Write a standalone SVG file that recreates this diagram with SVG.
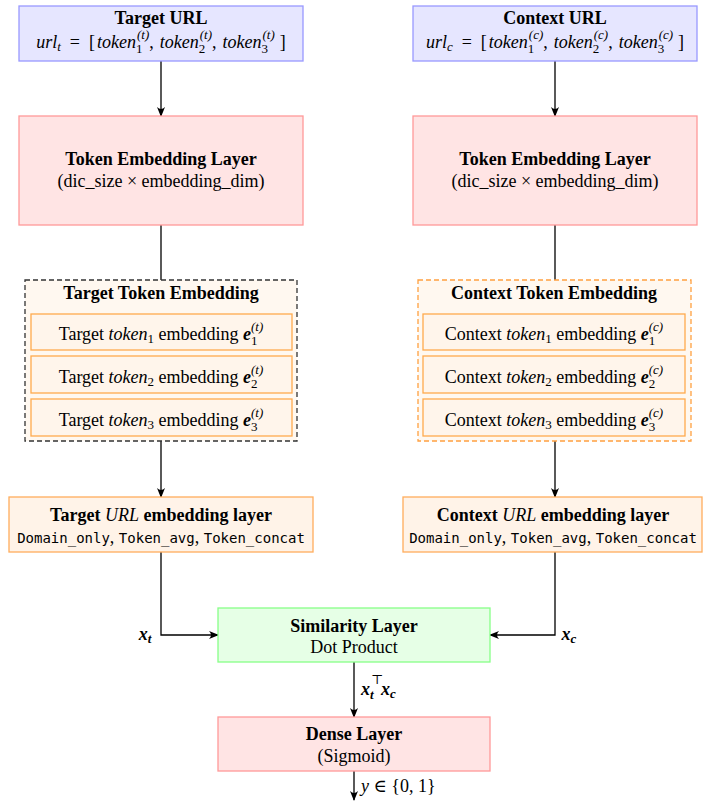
<svg xmlns="http://www.w3.org/2000/svg" width="703" height="801" viewBox="0 0 703 801">
<defs>
<marker id="arr" viewBox="0 0 10 10" refX="9" refY="5" markerWidth="10" markerHeight="10" markerUnits="userSpaceOnUse" orient="auto">
<path d="M0,1 Q4,5 0,9 L10,5 Z" fill="#000"/>
</marker>
<style>
text{font-family:"Liberation Serif","DejaVu Serif",serif;font-size:18px;fill:#000;text-anchor:middle}
.b{font-weight:bold}
.i{font-style:italic}
.s{font-size:13px}
.st{text-anchor:start}
.mono{font-family:"DejaVu Sans Mono","Liberation Mono",monospace;font-size:14px}
.url{fill:#e6e6ff;stroke:#9999ff;stroke-width:1.3}
.emb{fill:#ffe4e4;stroke:#ff9999;stroke-width:1.3}
.grp{fill:#fff8f0;stroke-width:1.3;stroke-dasharray:5,3}
.tok{fill:#fff5eb;stroke:#ffaa4d;stroke-width:1.3}
.ul{fill:#fff3e8;stroke:#ffad5c;stroke-width:1.3}
.sim{fill:#e6ffe6;stroke:#88ff88;stroke-width:1.3}
.c{fill:none;stroke:#000;stroke-width:1.3}
</style>
</defs>
<g id="connectors">
<line class="c" x1="161" y1="61" x2="161" y2="116" marker-end="url(#arr)"/>
<line class="c" x1="555" y1="61" x2="555" y2="116" marker-end="url(#arr)"/>
<line class="c" x1="161" y1="225" x2="161" y2="280"/>
<line class="c" x1="555" y1="225" x2="555" y2="280"/>
<line class="c" x1="161" y1="441" x2="161" y2="497" marker-end="url(#arr)"/>
<line class="c" x1="555" y1="441" x2="555" y2="497" marker-end="url(#arr)"/>
<polyline class="c" points="161,552 161,635 218,635" marker-end="url(#arr)"/>
<polyline class="c" points="555,552 555,635 490,635" marker-end="url(#arr)"/>
<line class="c" x1="354" y1="662" x2="354" y2="717" marker-end="url(#arr)"/>
<line class="c" x1="354" y1="771" x2="354" y2="800" marker-end="url(#arr)"/>
<text x="145" y="640" class="b i">x<tspan class="s" dy="3">t</tspan></text>
<text x="569" y="640" class="b i">x<tspan class="s" dy="3">c</tspan></text>
<text x="361" y="695" class="b i st">x<tspan class="s" dy="4">t</tspan></text>
<text x="371" y="684" class="s st">⊤</text>
<text x="381" y="695" class="b i st">x<tspan class="s" dy="3">c</tspan></text>
<text x="361" y="792" class="st"><tspan class="i">y</tspan> ∈ {0, 1}</text>
</g>
<g id="target-url">
<rect class="url" x="19" y="6" width="284" height="55"/>
<text x="161" y="24" class="b">Target URL</text>
<text x="161" y="48"><tspan class="i">url</tspan><tspan class="i s" dy="3">t</tspan><tspan dy="-3" dx="9">=</tspan><tspan dx="9">[</tspan><tspan class="i" dx="2">token</tspan><tspan class="s" dy="5">1</tspan><tspan class="i s" dx="-5.5" dy="-14">(t)</tspan><tspan dy="9">,</tspan><tspan class="i" dx="6">token</tspan><tspan class="s" dy="5">2</tspan><tspan class="i s" dx="-5.5" dy="-14">(t)</tspan><tspan dy="9">,</tspan><tspan class="i" dx="6">token</tspan><tspan class="s" dy="5">3</tspan><tspan class="i s" dx="-5.5" dy="-14">(t)</tspan><tspan dy="9" dx="5">]</tspan></text>
</g>
<g id="context-url">
<rect class="url" x="413" y="6" width="284" height="55"/>
<text x="555" y="24" class="b">Context URL</text>
<text x="555" y="48"><tspan class="i">url</tspan><tspan class="i s" dy="3">c</tspan><tspan dy="-3" dx="9">=</tspan><tspan dx="9">[</tspan><tspan class="i" dx="2">token</tspan><tspan class="s" dy="5">1</tspan><tspan class="i s" dx="-5.5" dy="-14">(c)</tspan><tspan dy="9">,</tspan><tspan class="i" dx="6">token</tspan><tspan class="s" dy="5">2</tspan><tspan class="i s" dx="-5.5" dy="-14">(c)</tspan><tspan dy="9">,</tspan><tspan class="i" dx="6">token</tspan><tspan class="s" dy="5">3</tspan><tspan class="i s" dx="-5.5" dy="-14">(c)</tspan><tspan dy="9" dx="5">]</tspan></text>
</g>
<g id="target-token-embedding-layer">
<rect class="emb" x="19" y="116" width="284" height="109"/>
<text x="161" y="165" class="b">Token Embedding Layer</text>
<text x="161" y="187">(dic_size × embedding_dim)</text>
</g>
<g id="context-token-embedding-layer">
<rect class="emb" x="413" y="116" width="284" height="109"/>
<text x="555" y="165" class="b">Token Embedding Layer</text>
<text x="555" y="187">(dic_size × embedding_dim)</text>
</g>
<g id="target-token-embedding">
<rect class="grp" x="25" y="280" width="272" height="161" stroke="#333"/>
<text x="161" y="299" class="b">Target Token Embedding</text>
<rect class="tok" x="31" y="314" width="261" height="36"/>
<text x="161" y="340">Target <tspan class="i">token</tspan><tspan class="s" dy="3">1</tspan><tspan dy="-3"> embedding </tspan><tspan class="b i">e</tspan><tspan class="s" dy="5">1</tspan><tspan class="i s" dx="-6.5" dy="-14">(t)</tspan></text>
<rect class="tok" x="31" y="356" width="261" height="37"/>
<text x="161" y="383">Target <tspan class="i">token</tspan><tspan class="s" dy="3">2</tspan><tspan dy="-3"> embedding </tspan><tspan class="b i">e</tspan><tspan class="s" dy="5">2</tspan><tspan class="i s" dx="-6.5" dy="-14">(t)</tspan></text>
<rect class="tok" x="31" y="399" width="261" height="37"/>
<text x="161" y="426">Target <tspan class="i">token</tspan><tspan class="s" dy="3">3</tspan><tspan dy="-3"> embedding </tspan><tspan class="b i">e</tspan><tspan class="s" dy="5">3</tspan><tspan class="i s" dx="-6.5" dy="-14">(t)</tspan></text>
</g>
<g id="context-token-embedding">
<rect class="grp" x="418" y="280" width="273" height="161" stroke="#ffa040"/>
<text x="554" y="299" class="b">Context Token Embedding</text>
<rect class="tok" x="423" y="314" width="262" height="36"/>
<text x="554" y="340">Context <tspan class="i">token</tspan><tspan class="s" dy="3">1</tspan><tspan dy="-3"> embedding </tspan><tspan class="b i">e</tspan><tspan class="s" dy="5">1</tspan><tspan class="i s" dx="-6.5" dy="-14">(c)</tspan></text>
<rect class="tok" x="423" y="356" width="262" height="37"/>
<text x="554" y="383">Context <tspan class="i">token</tspan><tspan class="s" dy="3">2</tspan><tspan dy="-3"> embedding </tspan><tspan class="b i">e</tspan><tspan class="s" dy="5">2</tspan><tspan class="i s" dx="-6.5" dy="-14">(c)</tspan></text>
<rect class="tok" x="423" y="399" width="262" height="37"/>
<text x="554" y="426">Context <tspan class="i">token</tspan><tspan class="s" dy="3">3</tspan><tspan dy="-3"> embedding </tspan><tspan class="b i">e</tspan><tspan class="s" dy="5">3</tspan><tspan class="i s" dx="-6.5" dy="-14">(c)</tspan></text>
</g>
<g id="target-url-embedding-layer">
<rect class="ul" x="9" y="497" width="304" height="55"/>
<text x="161" y="521" class="b">Target <tspan class="i" font-weight="normal">URL</tspan> embedding layer</text>
<text x="161" y="543"><tspan class="mono">Domain_only</tspan>, <tspan class="mono">Token_avg</tspan>, <tspan class="mono">Token_concat</tspan></text>
</g>
<g id="context-url-embedding-layer">
<rect class="ul" x="403" y="497" width="299" height="55"/>
<text x="553" y="521" class="b">Context <tspan class="i" font-weight="normal">URL</tspan> embedding layer</text>
<text x="553" y="543"><tspan class="mono">Domain_only</tspan>, <tspan class="mono">Token_avg</tspan>, <tspan class="mono">Token_concat</tspan></text>
</g>
<g id="similarity-layer">
<rect class="sim" x="218" y="608" width="272" height="54"/>
<text x="354" y="632" class="b">Similarity Layer</text>
<text x="354" y="653">Dot Product</text>
</g>
<g id="dense-layer">
<rect class="emb" x="218" y="717" width="272" height="54"/>
<text x="354" y="740" class="b">Dense Layer</text>
<text x="354" y="762">(Sigmoid)</text>
</g>
</svg>
